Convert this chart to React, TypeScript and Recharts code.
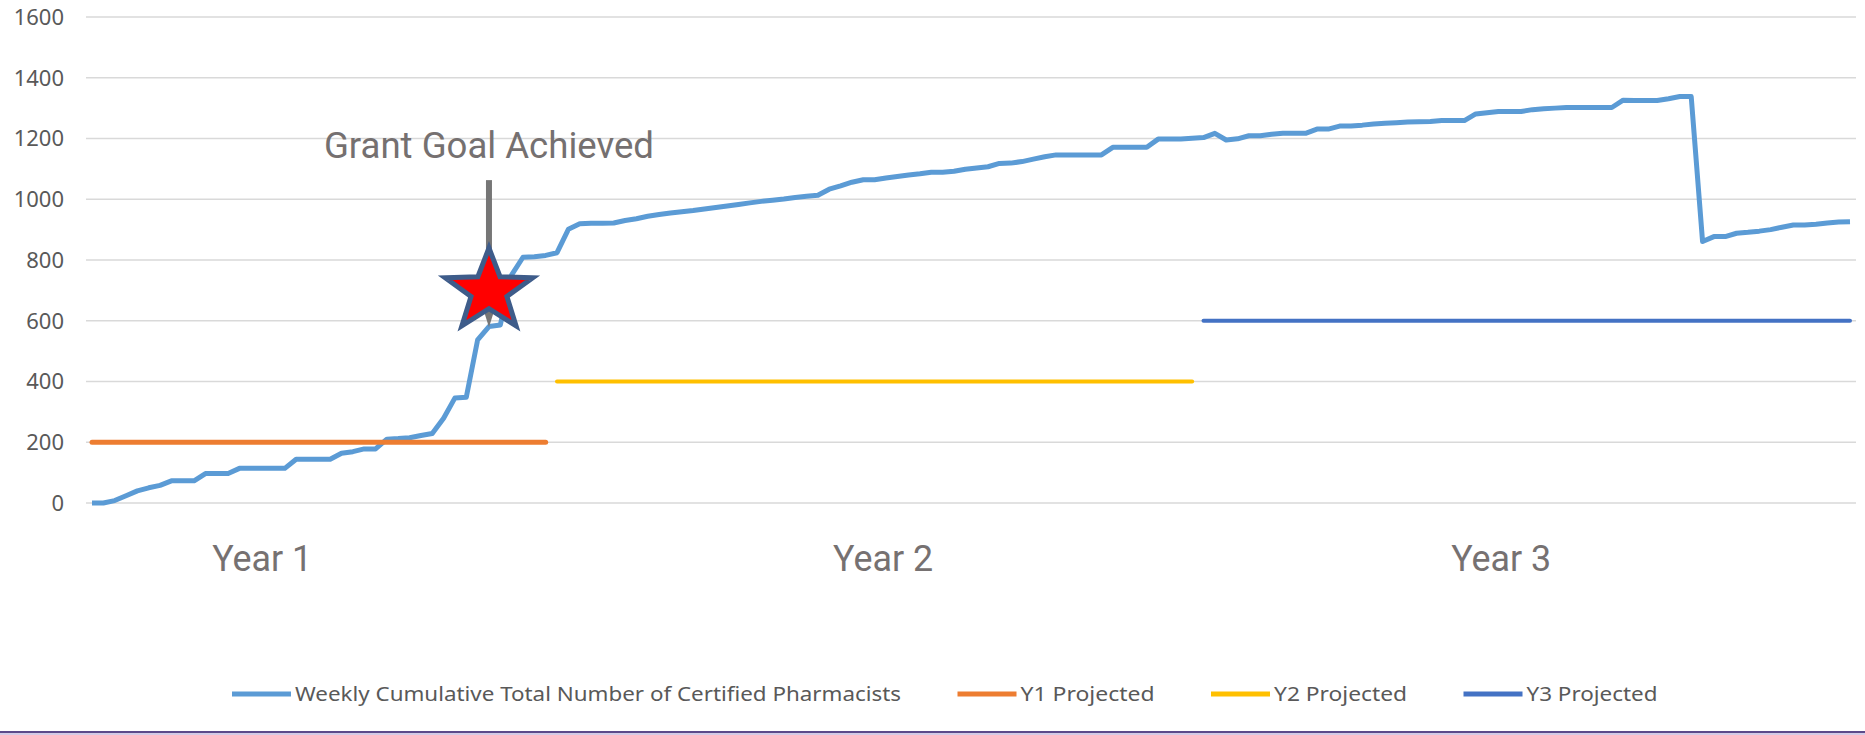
import React from 'react';
import {
  ComposedChart,
  Line,
  XAxis,
  YAxis,
  CartesianGrid,
  Legend,
  ReferenceLine,
  ReferenceDot,
} from 'recharts';

// ---- data ----
const weeklyCumulative = [
  0, 0, 8, 24, 40, 50, 58, 73, 73, 73,
  97, 97, 97, 114, 114, 114, 114, 114, 144, 144,
  144, 144, 164, 169, 178, 178, 210, 212, 215, 222,
  229, 279, 346, 348, 537, 581, 586, 751, 809, 811,
  815, 824, 901, 919, 921, 921, 922, 930, 936, 944,
  950, 955, 959, 963, 968, 973, 978, 983, 988, 993,
  997, 1001, 1006, 1010, 1013, 1033, 1044, 1056, 1064, 1064,
  1070, 1075, 1080, 1084, 1089, 1089, 1092, 1099, 1103, 1107,
  1118, 1119, 1124, 1132, 1140, 1146, 1146, 1146, 1146, 1146,
  1171, 1171, 1171, 1171, 1198, 1198, 1198, 1201, 1203, 1217,
  1195, 1199, 1209, 1209, 1214, 1217, 1217, 1217, 1231, 1231,
  1241, 1241, 1244, 1248, 1250, 1252, 1254, 1255, 1256, 1259,
  1259, 1259, 1281, 1285, 1289, 1289, 1289, 1295, 1298, 1300,
  1302, 1302, 1302, 1302, 1302, 1326, 1325, 1325, 1325, 1331,
  1338, 1338, 861, 877, 877, 888, 891, 895, 900, 908,
  915, 915, 918, 922, 925, 926,
];
const mainSeriesName = 'Weekly Cumulative Total Number of Certified Pharmacists';

const projectedNames = ['Y1 Projected', 'Y2 Projected', 'Y3 Projected'];
const projectedValues = [200, 400, 600];
const projectedStartWeeks = [0, 41, 98];
const projectedEndWeeks = [40, 97, 155];

const yTicks = [0, 200, 400, 600, 800, 1000, 1200, 1400, 1600];
const yearLabels = ['Year 1', 'Year 2', 'Year 3'];
const yearTickWeeks = [15, 69.75, 124.25];

const goalLabel = 'Grant Goal Achieved';
const goalWeek = 35;
const goalArrowTop = 1063;
const goalArrowShaftEnd = 835;
const goalArrowTip = 579;
const goalStarValue = 698;
const goalLabelValue = 1136;

// ---- styles ----
const mainColor = '#5B9BD5';
const projectedColors = ['#ED7D31', '#FFC000', '#4472C4'];
const projectedWidths = [5, 4, 4];
const legendTextWidths = [606, 134, 133, 131];

const mainData = weeklyCumulative.map((v, i) => ({ week: i, total: v }));
const projectedData = projectedValues.map((v, i) => [
  { week: projectedStartWeeks[i], value: v },
  { week: projectedEndWeeks[i], value: v },
]);

const YearTick = (props: any) => {
  const { x, y, payload } = props;
  const idx = yearTickWeeks.indexOf(payload.value);
  return (
    <text
      x={x}
      y={y}
      dy={68}
      textAnchor="middle"
      fontSize={36}
      fill="#767171"
      fontFamily="Roboto, sans-serif"
      textLength={100}
      lengthAdjust="spacingAndGlyphs"
    >
      {yearLabels[idx]}
    </text>
  );
};

const StarShape = (props: any) => {
  const { cx, cy } = props;
  const rx = 46;
  const ry = 43;
  const inner = 0.41;
  const pts: string[] = [];
  for (let k = 0; k < 10; k++) {
    const a = ((-90 + k * 36) * Math.PI) / 180;
    const f = k % 2 === 0 ? 1 : inner;
    pts.push(`${cx + rx * f * Math.cos(a)},${cy + ry * f * Math.sin(a)}`);
  }
  return (
    <polygon
      points={pts.join(' ')}
      fill="#FF0000"
      stroke="#3E5C8A"
      strokeWidth={5}
      strokeLinejoin="miter"
    />
  );
};

const ArrowHead = (props: any) => {
  const { cx, cy } = props;
  return (
    <g>
      <rect x={cx - 3} y={cy - 40} width={6} height={26} fill="#767676" />
      <polygon
        points={`${cx - 5},${cy - 16} ${cx + 5},${cy - 16} ${cx},${cy}`}
        fill="#767676"
      />
    </g>
  );
};

const GoalText = (props: any) => {
  const { cx, cy } = props;
  return (
    <text
      x={cx}
      y={cy}
      textAnchor="middle"
      fontSize={36}
      fill="#757070"
      fontFamily="Roboto, sans-serif"
      textLength={330}
      lengthAdjust="spacingAndGlyphs"
    >
      {goalLabel}
    </text>
  );
};

const LegendContent = (props: any) => {
  const { payload } = props;
  let x = 224;
  return (
    <svg width={1849} height={40} style={{ display: 'block' }}>
      {(payload || []).map((p: any, i: number) => {
        const sx = x;
        x += 63 + legendTextWidths[i] + 56.5;
        return (
          <g key={i}>
            <line x1={sx} x2={sx + 59} y1={20} y2={20} stroke={p.color} strokeWidth={5} />
            <text
              x={sx + 63}
              y={20}
              dy="0.35em"
              fontSize={19}
              fill="#595959"
              fontFamily="'Noto Sans', sans-serif"
              textLength={legendTextWidths[i]}
              lengthAdjust="spacingAndGlyphs"
            >
              {p.value}
            </text>
          </g>
        );
      })}
    </svg>
  );
};

export default function App() {
  return (
    <div
      style={{
        position: 'relative',
        width: 1865,
        height: 735,
        background: '#fff',
        overflow: 'hidden',
      }}
    >
      <style>{'html,body{margin:0;padding:0;overflow:hidden;background:#fff}'}</style>
      <div style={{ position: 'absolute', left: 8, top: 0 }}>
        <ComposedChart
          width={1849}
          height={727}
          margin={{ top: 17, right: 1, left: 0, bottom: 84 }}
        >
          <CartesianGrid vertical={false} stroke="#D9D9D9" strokeWidth={1.3} />
          <XAxis
            type="number"
            dataKey="week"
            domain={[0, 155]}
            ticks={yearTickWeeks}
            interval={0}
            padding={{ left: 6, right: 6 }}
            axisLine={false}
            tickLine={false}
            tickSize={0}
            tickMargin={0}
            height={100}
            tick={<YearTick />}
            allowDuplicatedCategory={false}
          />
          <YAxis
            type="number"
            domain={[0, 1600]}
            ticks={yTicks}
            interval={0}
            width={78}
            axisLine={false}
            tickLine={false}
            tickSize={0}
            tickMargin={22}
            tick={{ fontSize: 22, fill: '#595959', fontFamily: "'Noto Sans', sans-serif" }}
          />
          <Legend
            verticalAlign="bottom"
            layout="horizontal"
            content={<LegendContent />}
            wrapperStyle={{ left: 0, bottom: 13, width: 1849, height: 40 }}
          />
          <Line
            data={mainData}
            dataKey="total"
            name={mainSeriesName}
            type="linear"
            stroke={mainColor}
            strokeWidth={5}
            strokeLinejoin="round"
            dot={false}
            activeDot={false}
            isAnimationActive={false}
          />
          {projectedNames.map((n, i) => (
            <Line
              key={n}
              data={projectedData[i]}
              dataKey="value"
              name={n}
              type="linear"
              stroke={projectedColors[i]}
              strokeWidth={projectedWidths[i]}
              strokeLinecap="round"
              dot={false}
              activeDot={false}
              isAnimationActive={false}
            />
          ))}
          <ReferenceLine
            segment={[
              { x: goalWeek, y: goalArrowTop },
              { x: goalWeek, y: goalArrowShaftEnd },
            ]}
            stroke="#767676"
            strokeWidth={6}
          />
          <ReferenceDot x={goalWeek} y={goalArrowTip} r={1} shape={<ArrowHead />} />
          <ReferenceDot x={goalWeek} y={goalStarValue} r={1} shape={<StarShape />} />
          <ReferenceDot x={goalWeek} y={goalLabelValue} r={1} shape={<GoalText />} />
        </ComposedChart>
      </div>
      <div
        style={{
          position: 'absolute',
          left: 0,
          top: 731,
          width: 1865,
          height: 2,
          background: '#5C4A8A',
        }}
      />
      <div
        style={{
          position: 'absolute',
          left: 0,
          top: 733,
          width: 1865,
          height: 2,
          background: '#D3CBE6',
        }}
      />
    </div>
  );
}
